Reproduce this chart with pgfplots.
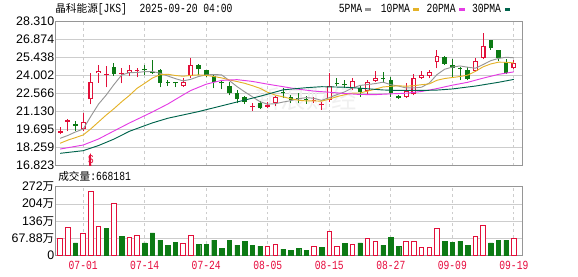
\documentclass[border=0pt]{standalone}
\usepackage{fontspec}
\setmainfont{Liberation Sans}
\newfontfamily\cjk{Noto Sans CJK SC}
\newfontfamily\sun[FakeStretch=0.78]{Liberation Mono}
\usepackage{pgfplots}
\usepackage{pgfplotstable}
\pgfplotsset{compat=1.18}
\definecolor{upc}{RGB}{226,16,58}
\definecolor{dnc}{RGB}{12,122,20}
\definecolor{mafive}{RGB}{150,150,150}
\definecolor{maten}{RGB}{228,178,40}
\definecolor{matwenty}{RGB}{228,60,228}
\definecolor{mathirty}{RGB}{0,100,76}
\definecolor{datec}{RGB}{230,10,60}
\definecolor{gridc}{RGB}{205,205,205}
\definecolor{framec}{RGB}{150,150,150}
\newcommand\tickfont{\fontsize{9.3}{10}\selectfont}
\newcommand\sunfont{\sun\fontsize{9.3}{10}\selectfont}
\newcommand\dl[1]{\textcolor{datec}{#1}}

% up (hollow red) candles: index open high low close
\pgfplotstableread{
i o h l c
0 19.45 19.90 19.30 19.55
1 20.33 20.50 19.55 20.42
3 19.72 20.98 19.55 20.30
4 22.10 24.20 21.70 23.50
5 24.16 24.85 23.42 24.37
6 24.00 24.75 23.05 24.05
8 24.08 24.60 23.37 24.12
9 24.22 24.83 23.95 24.43
10 24.38 24.60 23.85 24.42
16 23.15 23.77 23.10 23.50
17 23.95 25.36 23.82 24.83
25 21.48 21.78 21.17 21.53
27 21.51 21.90 21.38 21.64
28 21.78 22.35 21.56 22.30
33 22.00 22.30 21.80 22.05
34 21.68 21.90 21.25 21.72
35 22.04 24.16 21.91 23.15
38 23.02 23.77 22.83 23.58
40 22.78 23.63 22.55 23.50
41 23.58 24.37 23.50 23.77
45 22.30 23.37 22.20 22.76
46 22.49 24.08 22.40 23.77
47 23.82 24.35 23.70 24.03
48 23.97 24.45 23.77 24.24
49 25.09 26.02 24.56 25.52
54 24.35 25.41 24.30 25.14
55 25.41 27.39 25.30 26.34
59 24.56 25.22 24.50 24.96
}\upcandles

% down (filled green) candles: index open high low close
\pgfplotstableread{
i o h l c
2 20.15 20.40 19.60 20.00
7 24.66 25.00 23.97 24.12
11 24.45 24.80 24.03 24.40
12 24.25 25.20 24.10 24.18
13 24.40 24.50 23.05 23.40
14 23.42 23.65 23.15 23.37
15 23.42 23.50 23.05 23.37
18 24.83 24.90 24.03 24.48
19 24.43 24.45 23.90 24.03
20 23.95 24.10 22.97 23.50
21 23.45 23.65 22.89 23.37
22 23.15 23.50 22.40 22.57
23 22.57 22.83 21.78 22.10
24 22.26 22.35 21.72 21.91
26 21.78 21.98 21.35 21.38
29 22.62 23.00 22.20 22.57
30 22.30 22.40 21.80 22.04
31 22.20 22.57 21.78 22.15
32 22.12 22.35 21.75 22.08
36 23.40 23.77 23.15 23.35
37 23.25 23.63 23.00 23.20
39 23.02 23.23 22.30 22.70
42 23.80 24.29 23.42 23.75
43 23.63 23.90 22.30 22.57
44 22.38 22.40 22.15 22.17
50 25.49 25.55 24.83 24.91
51 24.83 25.30 23.90 24.60
52 24.55 24.69 23.63 24.50
53 24.43 24.69 23.63 23.71
56 26.81 26.81 26.02 26.15
57 26.02 26.05 25.14 25.41
58 25.09 25.28 24.10 24.16
}\dncandles

% volume, in 10^4 shares
\pgfplotstableread{
i v
0 67.5
1 110.7
3 87.1
4 255
5 115.8
7 205
9 71.4
10 80.5
16 47.9
17 80.5
27 37.3
28 45.1
33 37.3
35 96.2
36 36.1
38 45.1
40 67.5
41 56.9
45 56.9
46 56.9
47 33.4
48 33.4
49 106.7
54 75.4
55 118.5
59 66.8
}\volup

\pgfplotstableread{
i v
2 50.2
6 106.7
8 76.5
11 50.2
12 89.5
13 60.8
14 41.2
15 53.0
18 45.1
19 45.1
20 60.8
21 29.4
22 60.8
23 41.2
24 56.9
25 41.2
26 37.3
29 25.5
30 21.6
31 28.3
32 21.6
34 33.4
37 49.1
39 50.2
42 41.2
43 72.6
44 37.3
50 56.9
51 53.0
52 56.9
53 41.2
56 50.2
57 60.8
58 60.8
}\voldn

\pgfplotsset{kstyle/.style={
  scale only axis, anchor=south west,
  xmin=-0.6, xmax=60.15,
  xtick={3,11,19,27,35,43,51,59},
  major tick length=0pt, tick style={draw=none},
  xmajorgrids, ymajorgrids,
  x grid style={gridc, dash pattern=on 2.2pt off 2.2pt, line width=0.6pt},
  y grid style={gridc, line width=0.6pt},
  axis line style={framec, line width=0.7pt},
  yticklabel style={font=\tickfont, inner sep=0.8pt},
},
candle/.style={draw=none, mark=none, forget plot,
  error bars/.cd, y dir=plus, y explicit, error mark=none,
  error bar style={#1}}
}

\begin{document}
\begin{tikzpicture}
\path[use as bounding box] (0,0) rectangle (433.5pt,207pt);

\begin{axis}[kstyle,
  at={(41.625pt,82.8pt)}, width=350.4pt, height=108.3pt,
  ymin=16.823, ymax=28.310,
  xticklabels={},
  ytick={16.823,18.259,19.695,21.130,22.566,24.002,25.438,26.874,28.310},
  yticklabels={16.823,18.259,19.695,21.130,22.566,24.002,25.438,26.874,28.310},
]
\node[text=black!6, font=\cjk\fontsize{19}{19}\selectfont] at (axis cs:32,22.1) {新浪财经};
% wicks
\addplot[candle={draw=upc, solid, line width=0.75pt}]
  table[x=i, y=l, y error expr=\thisrow{h}-\thisrow{l}] {\upcandles};
\addplot[candle={draw=dnc, solid, line width=0.75pt}]
  table[x=i, y=l, y error expr=\thisrow{h}-\thisrow{l}] {\dncandles};
% green bodies
\addplot[candle={draw=dnc, solid, line width=3.4pt}]
  table[x=i, y=c, y error expr={max(\thisrow{o}-\thisrow{c},0.08)}] {\dncandles};
% red hollow bodies
\addplot[candle={draw=upc, solid, line width=3.6pt}]
  table[x=i, y=o, y error expr={max(\thisrow{c}-\thisrow{o},0.08)}] {\upcandles};
\addplot[candle={draw=white, solid, line width=2.0pt}]
  table[x=i, y expr=\thisrow{o}+0.08, y error expr={max(\thisrow{c}-\thisrow{o}-0.16,0)}] {\upcandles};

% moving averages
\addplot[mafive, line width=0.7pt, mark=none] coordinates {
(0,18.99)(1,19.22)(2,19.50)(3,19.73)(4,20.75)(5,21.72)(6,22.44)(7,23.27)(8,24.03)(9,24.22)
(10,24.23)(11,24.30)(12,24.31)(13,24.17)(14,23.95)(15,23.74)(16,23.56)(17,23.69)(18,23.91)(19,24.04)
(20,24.07)(21,24.04)(22,23.59)(23,23.11)(24,22.69)(25,22.30)(26,21.90)(27,21.71)(28,21.75)(29,21.88)
(30,21.99)(31,22.14)(32,22.23)(33,22.18)(34,22.01)(35,22.23)(36,22.47)(37,22.69)(38,23.00)(39,23.20)
(40,23.27)(41,23.35)(42,23.46)(43,23.26)(44,23.15)(45,23.00)(46,23.00)(47,23.06)(48,23.39)(49,24.06)
(50,24.49)(51,24.66)(52,24.75)(53,24.65)(54,24.57)(55,24.86)(56,25.17)(57,25.35)(58,25.44)(59,25.40)};
\addplot[maten, line width=0.7pt, mark=none] coordinates {
(0,18.60)(1,18.85)(2,19.05)(3,19.26)(4,19.75)(5,20.30)(6,20.85)(7,21.35)(8,21.90)(9,22.40)
(10,22.97)(11,23.37)(12,23.79)(13,24.05)(14,24.09)(15,23.99)(16,23.93)(17,24.00)(18,24.04)(19,24.00)
(20,23.91)(21,23.80)(22,23.64)(23,23.51)(24,23.37)(25,23.18)(26,22.97)(27,22.65)(28,22.43)(29,22.29)
(30,22.14)(31,22.02)(32,21.97)(33,21.97)(34,21.95)(35,22.11)(36,22.31)(37,22.46)(38,22.59)(39,22.60)
(40,22.75)(41,22.91)(42,23.08)(43,23.13)(44,23.17)(45,23.14)(46,23.18)(47,23.26)(48,23.32)(49,23.61)
(50,23.75)(51,23.83)(52,23.91)(53,24.02)(54,24.32)(55,24.68)(56,24.91)(57,25.05)(58,25.04)(59,24.99)};
\addplot[matwenty, line width=0.7pt, mark=none] coordinates {
(0,18.14)(3,18.46)(5,18.94)(7,19.58)(9,20.21)(12,21.09)(14,21.72)(16,22.45)(17,22.80)(19,23.30)
(21,23.60)(23,23.66)(25,23.52)(27,23.30)(29,23.10)(31,22.90)(33,22.75)(35,22.66)(37,22.56)(39,22.48)
(41,22.47)(43,22.53)(45,22.58)(47,22.72)(49,22.95)(51,23.22)(53,23.45)(55,23.78)(57,24.08)(59,24.28)};
\addplot[mathirty, line width=0.7pt, mark=none] coordinates {
(0,17.80)(3,18.01)(5,18.42)(7,18.93)(9,19.55)(12,20.22)(14,20.59)(18,21.12)(22,21.73)(26,22.34)
(29,22.85)(32,23.02)(34,23.10)(37,23.06)(39,22.98)(42,22.84)(44,22.80)(47,22.80)(49,22.83)(51,22.92)
(54,23.15)(57,23.45)(59,23.68)};

% buy marker under 07-02
\fill[upc] (axis cs:4,17.82) -- ++(-1.6pt,-2.4pt) -- ++(3.2pt,0) -- cycle;
\node[text=upc, font=\sun\fontsize{9}{9}\selectfont, inner sep=0pt] at (axis cs:4,17.27) {S};
\end{axis}

\begin{axis}[kstyle,
  at={(41.625pt,15.375pt)}, width=350.4pt, height=51.6pt,
  ymin=0, ymax=272,
  ytick={0,67.88,136,204,272},
  yticklabels={0,{67.88{\cjk\fontsize{8.6}{9}\selectfont 万}},{136{\cjk\fontsize{8.6}{9}\selectfont 万}},{204{\cjk\fontsize{8.6}{9}\selectfont 万}},{272{\cjk\fontsize{8.6}{9}\selectfont 万}}},
  xticklabels={\dl{07-01},\dl{07-14},\dl{07-24},\dl{08-05},\dl{08-15},\dl{08-27},\dl{09-09},\dl{09-19}},
  xticklabel style={font=\sunfont, text=datec, inner sep=0pt, yshift=-4pt},
]
\addplot[ybar, bar width=3.3pt, bar shift=0pt, draw=upc, fill=white, line width=0.75pt] table[x=i, y=v] {\volup};
\addplot[ybar, bar width=3.3pt, bar shift=0pt, draw=dnc, fill=dnc, line width=0.3pt] table[x=i, y=v] {\voldn};
\end{axis}

% title
\node[anchor=base west, inner sep=0pt] at (41.25pt,197.3pt) {{\cjk\fontsize{8}{9}\selectfont 晶科能源}{\sunfont[JKS]}};
\node[anchor=base west, inner sep=0pt, font=\sunfont] at (104.5pt,197.3pt) {2025-09-20 04:00};
% legend
\node[anchor=base west, inner sep=0pt, font=\sunfont] at (254pt,197.3pt) {5PMA};
\fill[mafive] (274pt,199.1pt) rectangle (278pt,201pt);
\node[anchor=base west, inner sep=0pt, font=\sunfont] at (285.5pt,197.3pt) {10PMA};
\fill[maten] (309.75pt,199.1pt) rectangle (314pt,201pt);
\node[anchor=base west, inner sep=0pt, font=\sunfont] at (319.7pt,197.3pt) {20PMA};
\fill[matwenty] (344.25pt,199.1pt) rectangle (348.5pt,201pt);
\node[anchor=base west, inner sep=0pt, font=\sunfont] at (353.8pt,197.3pt) {30PMA};
\fill[mathirty] (378.5pt,199.1pt) rectangle (382.7pt,201pt);
% volume caption
\node[anchor=base west, inner sep=0pt] at (43.5pt,71.3pt) {{\cjk\fontsize{8}{9}\selectfont 成交量}{\sunfont :668181}};
\end{tikzpicture}
\end{document}
